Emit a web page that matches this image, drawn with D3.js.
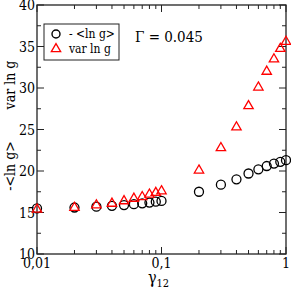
<!DOCTYPE html>
<html>
<head>
<meta charset="utf-8">
<script src="https://cdn.jsdelivr.net/npm/d3@7"></script>
<style>
  html, body { margin: 0; padding: 0; background: #fff; }
  svg { display: block; }
</style>
</head>
<body>
<svg id="viz"></svg>
<script>
const WIDTH = 291;
const HEIGHT = 291;
const MARGIN = { top: 5, right: 5, bottom: 37, left: 37 };
const FONT = "'DejaVu Serif Condensed', 'DejaVu Serif', serif";

// gamma_12 values
const gammaVals = [0.01, 0.02, 0.03, 0.04, 0.05, 0.06, 0.07, 0.08, 0.09, 0.1,
                   0.2, 0.3, 0.4, 0.5, 0.6, 0.7, 0.8, 0.9, 1.0];
// - <ln g>
const meanLnG = [15.5, 15.6, 15.7, 15.8, 15.9, 16.0, 16.1, 16.2, 16.3, 16.4,
                 17.5, 18.35, 19.0, 19.7, 20.2, 20.6, 20.9, 21.1, 21.3];
// var ln g
const varLnG = [15.5, 15.7, 16.0, 16.2, 16.5, 16.8, 17.0, 17.3, 17.5, 17.7,
                20.2, 22.9, 25.4, 27.95, 30.2, 32.1, 33.6, 34.85, 35.7];

const xTickVals = [0.01, 0.1, 1];
const xTickLabels = ["0,01", "0,1", "1"];
const yTickVals = [10, 15, 20, 25, 30, 35, 40];

const svg = d3.select("#viz").attr("width", WIDTH).attr("height", HEIGHT)
  .style("font-family", FONT);

const x = d3.scaleLog().domain([0.01, 1]).range([MARGIN.left, WIDTH - MARGIN.right]);
const y = d3.scaleLinear().domain([10, 40]).range([HEIGHT - MARGIN.bottom, MARGIN.top]);

const x0 = x.range()[0], x1 = x.range()[1];
const y0 = y.range()[0], y1 = y.range()[1];

// minor ticks on log axis
const xMinor = [];
[0.01, 0.1].forEach(d => { for (let k = 2; k <= 9; k++) xMinor.push(d * k); });
const yMinor = d3.range(12.5, 40, 5);

const ax = svg.append("g").attr("stroke", "#222");

// frame
ax.append("rect")
  .attr("x", x0).attr("y", y1)
  .attr("width", x1 - x0).attr("height", y0 - y1)
  .attr("fill", "none").attr("stroke-width", 1.3);

// x ticks, bottom and top, pointing inward
xTickVals.forEach(v => {
  ax.append("line").attr("x1", x(v)).attr("x2", x(v)).attr("y1", y0).attr("y2", y0 - 7);
  ax.append("line").attr("x1", x(v)).attr("x2", x(v)).attr("y1", y1).attr("y2", y1 + 7);
});
xMinor.forEach(v => {
  ax.append("line").attr("x1", x(v)).attr("x2", x(v)).attr("y1", y0).attr("y2", y0 - 4);
  ax.append("line").attr("x1", x(v)).attr("x2", x(v)).attr("y1", y1).attr("y2", y1 + 4);
});
// y ticks, left and right
yTickVals.forEach(v => {
  ax.append("line").attr("y1", y(v)).attr("y2", y(v)).attr("x1", x0).attr("x2", x0 + 7);
  ax.append("line").attr("y1", y(v)).attr("y2", y(v)).attr("x1", x1).attr("x2", x1 - 7);
});
yMinor.forEach(v => {
  ax.append("line").attr("y1", y(v)).attr("y2", y(v)).attr("x1", x0).attr("x2", x0 + 4);
  ax.append("line").attr("y1", y(v)).attr("y2", y(v)).attr("x1", x1).attr("x2", x1 - 4);
});

// tick labels
svg.append("g").selectAll("text")
  .data(yTickVals).join("text")
  .attr("font-family", FONT)
  .attr("x", x0 - 2).attr("y", d => y(d) + 5)
  .attr("text-anchor", "end").attr("font-size", 14)
  .text(d => d);

svg.append("g").selectAll("text")
  .data(xTickVals).join("text")
  .attr("font-family", FONT)
  .attr("x", d => x(d)).attr("y", y0 + 14)
  .attr("text-anchor", "middle").attr("font-size", 14)
  .text((d, i) => xTickLabels[i]);

// axis titles
const xt = svg.append("text")
  .attr("font-family", FONT)
  .attr("x", x(0.1) - 3).attr("y", 283)
  .attr("text-anchor", "middle").attr("font-size", 16);
xt.append("tspan").text("γ");
xt.append("tspan").attr("font-size", 11).attr("dy", 4).text("12");

svg.append("text")
  .attr("font-family", FONT)
  .attr("transform", `translate(15,85) rotate(-90)`)
  .attr("text-anchor", "middle").attr("font-size", 14)
  .text("var ln g");
svg.append("text")
  .attr("font-family", FONT)
  .attr("transform", `translate(15,166) rotate(-90)`)
  .attr("text-anchor", "middle").attr("font-size", 14)
  .text("-<ln g>");

// data markers
svg.append("g").selectAll("circle")
  .data(gammaVals).join("circle")
  .attr("cx", d => x(d)).attr("cy", (d, i) => y(meanLnG[i]))
  .attr("r", 4.5)
  .attr("fill", "none").attr("stroke", "#000").attr("stroke-width", 1.3);

const tri = d3.symbol().type(d3.symbolTriangle).size(38);
svg.append("g").selectAll("path")
  .data(gammaVals).join("path")
  .attr("transform", (d, i) => `translate(${x(d)},${y(varLnG[i]) + 1})`)
  .attr("d", tri)
  .attr("fill", "none").attr("stroke", "#ff0000").attr("stroke-width", 1.3);

// legend
const lg = svg.append("g");
lg.append("rect")
  .attr("x", 44).attr("y", 24).attr("width", 75).attr("height", 36)
  .attr("fill", "#fff").attr("stroke", "#222").attr("stroke-width", 1);
lg.append("circle").attr("cx", 56).attr("cy", 34).attr("r", 4)
  .attr("fill", "none").attr("stroke", "#000").attr("stroke-width", 1.4);
lg.append("path").attr("transform", "translate(56,49)").attr("d", tri)
  .attr("fill", "none").attr("stroke", "#ff0000").attr("stroke-width", 1.3);
lg.append("text").attr("font-family", FONT).attr("x", 69).attr("y", 38).attr("font-size", 12).text("- <ln g>");
lg.append("text").attr("font-family", FONT).attr("x", 69).attr("y", 53).attr("font-size", 12).text("var ln g");

svg.append("text").attr("font-family", FONT)
  .attr("x", 135).attr("y", 42).attr("font-size", 15).text("Γ = 0.045");
</script>
</body>
</html>
